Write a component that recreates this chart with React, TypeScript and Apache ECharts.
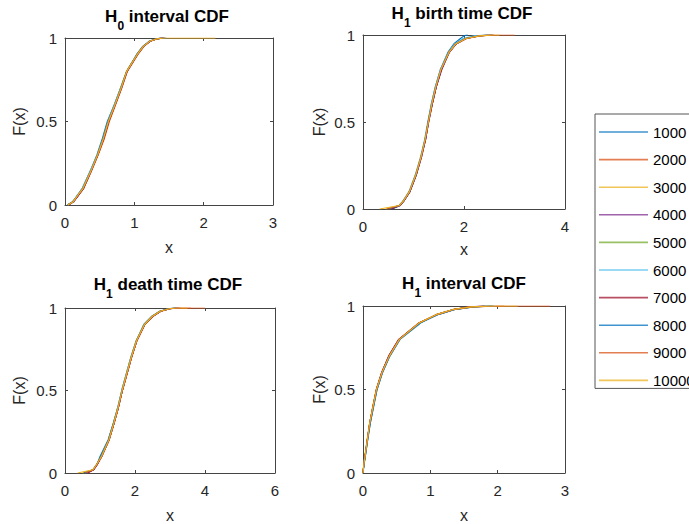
import React, { useEffect, useRef } from "react";
import * as echarts from "echarts";

// ---- data -------------------------------------------------------------
const seriesNames = ["1000", "2000", "3000", "4000", "5000", "6000", "7000", "8000", "9000", "10000"];
const matlabColors = ["#0072BD", "#D95319", "#EDB120", "#7E2F8E", "#77AC30", "#4DBEEE", "#A2142F"];

// cumulative probability levels (y values) for the panels
const cdfLevels = [0, 0.02, 0.05, 0.1, 0.2, 0.3, 0.4, 0.5, 0.6, 0.7, 0.8, 0.9, 0.95, 0.98, 0.995, 1, 1];
const h1IntervalLevels = [0, 0.05, 0.1, 0.2, 0.3, 0.4, 0.5, 0.6, 0.7, 0.8, 0.9, 0.95, 0.98, 0.995, 1, 1];

// x quantiles per series (rows: 1000 … 10000)
const h0IntervalX = [
  [0.03, 0.11, 0.17, 0.25, 0.36, 0.46, 0.54, 0.61, 0.71, 0.8, 0.89, 1.03, 1.12, 1.21, 1.31, 1.38, 1.4],
  [0.05, 0.12, 0.18, 0.27, 0.38, 0.48, 0.57, 0.64, 0.73, 0.82, 0.9, 1.05, 1.14, 1.23, 1.34, 1.42, 1.45],
  [0.04, 0.12, 0.17, 0.26, 0.37, 0.47, 0.555, 0.625, 0.72, 0.81, 0.89, 1.04, 1.13, 1.22, 1.32, 1.39, 1.41],
  [0.05, 0.13, 0.18, 0.26, 0.37, 0.47, 0.56, 0.63, 0.72, 0.81, 0.895, 1.04, 1.13, 1.23, 1.33, 1.4, 1.43],
  [0.04, 0.11, 0.17, 0.25, 0.365, 0.465, 0.55, 0.62, 0.715, 0.8, 0.885, 1.035, 1.125, 1.22, 1.32, 1.38, 1.39],
  [0.03, 0.12, 0.16, 0.25, 0.36, 0.47, 0.55, 0.62, 0.71, 0.805, 0.89, 1.04, 1.13, 1.22, 1.33, 1.41, 1.44],
  [0.05, 0.12, 0.18, 0.27, 0.375, 0.475, 0.56, 0.63, 0.725, 0.815, 0.895, 1.045, 1.135, 1.225, 1.335, 1.4, 1.42],
  [0.04, 0.12, 0.17, 0.26, 0.37, 0.47, 0.55, 0.62, 0.72, 0.81, 0.89, 1.04, 1.13, 1.22, 1.33, 1.41, 1.46],
  [0.04, 0.12, 0.17, 0.26, 0.37, 0.475, 0.56, 0.63, 0.72, 0.81, 0.89, 1.04, 1.13, 1.22, 1.33, 1.41, 1.43],
  [0.04, 0.12, 0.17, 0.26, 0.37, 0.47, 0.555, 0.625, 0.72, 0.81, 0.89, 1.04, 1.13, 1.22, 1.33, 1.42, 2.17],
];

const h1BirthX = [
  [0.58, 0.74, 0.82, 0.93, 1.06, 1.15, 1.23, 1.29, 1.35, 1.43, 1.53, 1.68, 1.8, 1.93, 2.0, 2.05, 2.08],
  [0.5, 0.72, 0.81, 0.92, 1.05, 1.15, 1.24, 1.3, 1.37, 1.45, 1.55, 1.71, 1.85, 2.05, 2.3, 2.55, 2.6],
  [0.45, 0.71, 0.8, 0.91, 1.04, 1.14, 1.23, 1.29, 1.36, 1.44, 1.54, 1.7, 1.84, 2.04, 2.28, 2.5, 2.52],
  [0.55, 0.73, 0.82, 0.93, 1.06, 1.16, 1.24, 1.3, 1.37, 1.45, 1.56, 1.71, 1.85, 2.03, 2.25, 2.45, 2.48],
  [0.52, 0.72, 0.81, 0.92, 1.05, 1.15, 1.23, 1.29, 1.36, 1.44, 1.54, 1.7, 1.83, 2.02, 2.27, 2.5, 2.55],
  [0.48, 0.71, 0.8, 0.91, 1.04, 1.14, 1.22, 1.28, 1.35, 1.43, 1.53, 1.69, 1.82, 1.98, 2.2, 2.42, 2.45],
  [0.56, 0.73, 0.82, 0.93, 1.06, 1.16, 1.24, 1.3, 1.37, 1.45, 1.55, 1.7, 1.85, 2.05, 2.3, 2.55, 2.58],
  [0.5, 0.72, 0.81, 0.92, 1.05, 1.15, 1.23, 1.29, 1.36, 1.44, 1.54, 1.7, 1.84, 2.03, 2.3, 2.52, 2.56],
  [0.47, 0.72, 0.81, 0.92, 1.05, 1.15, 1.23, 1.29, 1.36, 1.44, 1.54, 1.7, 1.84, 2.04, 2.32, 2.6, 3.0],
  [0.33, 0.72, 0.81, 0.92, 1.05, 1.15, 1.23, 1.295, 1.36, 1.44, 1.54, 1.7, 1.84, 2.04, 2.3, 2.57, 2.7],
];

const h1DeathX = [
  [0.62, 0.82, 0.91, 1.0, 1.23, 1.38, 1.51, 1.62, 1.75, 1.88, 2.03, 2.25, 2.48, 2.7, 2.95, 3.1, 3.12],
  [0.55, 0.81, 0.91, 1.05, 1.26, 1.4, 1.53, 1.64, 1.77, 1.9, 2.05, 2.28, 2.51, 2.74, 3.0, 3.3, 4.0],
  [0.5, 0.79, 0.89, 1.03, 1.24, 1.38, 1.51, 1.62, 1.75, 1.88, 2.03, 2.26, 2.49, 2.71, 2.96, 3.15, 3.2],
  [0.6, 0.82, 0.92, 1.04, 1.25, 1.4, 1.53, 1.64, 1.77, 1.9, 2.05, 2.28, 2.51, 2.73, 3.0, 3.2, 3.25],
  [0.52, 0.8, 0.9, 1.04, 1.25, 1.39, 1.52, 1.63, 1.76, 1.89, 2.04, 2.26, 2.49, 2.72, 2.97, 3.12, 3.16],
  [0.58, 0.81, 0.9, 1.05, 1.26, 1.39, 1.51, 1.62, 1.75, 1.88, 2.04, 2.27, 2.5, 2.72, 2.98, 3.18, 3.22],
  [0.65, 0.82, 0.92, 1.05, 1.26, 1.4, 1.53, 1.64, 1.77, 1.9, 2.05, 2.28, 2.52, 2.74, 3.0, 3.18, 3.3],
  [0.54, 0.8, 0.9, 1.03, 1.24, 1.38, 1.52, 1.63, 1.76, 1.89, 2.04, 2.27, 2.5, 2.72, 2.97, 3.14, 3.18],
  [0.57, 0.81, 0.91, 1.05, 1.26, 1.4, 1.53, 1.64, 1.77, 1.9, 2.05, 2.28, 2.5, 2.73, 2.99, 3.2, 3.6],
  [0.36, 0.8, 0.9, 1.04, 1.25, 1.39, 1.52, 1.63, 1.76, 1.89, 2.04, 2.27, 2.5, 2.72, 2.98, 3.17, 3.5],
];

const h1IntervalX = [
  [0.0, 0.015, 0.035, 0.07, 0.11, 0.16, 0.21, 0.29, 0.4, 0.55, 0.86, 1.1, 1.36, 1.62, 1.85, 1.9],
  [0.0, 0.012, 0.03, 0.065, 0.1, 0.15, 0.2, 0.28, 0.38, 0.53, 0.83, 1.12, 1.38, 1.65, 2.0, 2.78],
  [0.0, 0.01, 0.028, 0.06, 0.1, 0.145, 0.195, 0.275, 0.385, 0.54, 0.84, 1.1, 1.35, 1.6, 1.85, 1.88],
  [0.0, 0.013, 0.03, 0.065, 0.1, 0.15, 0.2, 0.275, 0.38, 0.53, 0.85, 1.12, 1.37, 1.6, 1.8, 1.82],
  [0.0, 0.011, 0.029, 0.063, 0.1, 0.148, 0.2, 0.28, 0.39, 0.54, 0.84, 1.11, 1.36, 1.62, 1.9, 1.95],
  [0.0, 0.014, 0.033, 0.068, 0.105, 0.155, 0.205, 0.285, 0.395, 0.55, 0.86, 1.13, 1.38, 1.64, 1.92, 1.96],
  [0.0, 0.012, 0.03, 0.064, 0.1, 0.148, 0.198, 0.276, 0.385, 0.535, 0.84, 1.1, 1.35, 1.58, 1.78, 1.8],
  [0.0, 0.015, 0.034, 0.07, 0.108, 0.157, 0.207, 0.286, 0.395, 0.545, 0.85, 1.12, 1.37, 1.63, 1.9, 1.93],
  [0.0, 0.012, 0.03, 0.066, 0.102, 0.152, 0.202, 0.282, 0.39, 0.54, 0.84, 1.11, 1.36, 1.62, 2.0, 2.1],
  [0.0, 0.012, 0.03, 0.065, 0.1, 0.15, 0.2, 0.28, 0.39, 0.54, 0.84, 1.1, 1.35, 1.6, 1.9, 2.3],
];

// axis ticks
const xAxisMax = [3, 4, 6, 3];
const xAxisStep = [1, 2, 2, 1];
const yAxisMax = 1;
const yAxisStep = 0.5;

// titles: main letter, subscript, rest
const titleMain = ["H", "H", "H", "H"];
const titleSub = ["0", "1", "1", "1"];
const titleRest = [" interval CDF", " birth time CDF", " death time CDF", " interval CDF"];

// ---- layout ------------------------------------------------------------
const FONT = "'Liberation Sans', Arial, Helvetica, sans-serif";
const panels = [
  { grid: { left: 65, top: 38, width: 208, height: 167 }, levels: cdfLevels, xs: h0IntervalX, titleX: 167, titleY: 8, xGap: 34, yGap: 38 },
  { grid: { left: 363, top: 35, width: 202, height: 174 }, levels: cdfLevels, xs: h1BirthX, titleX: 462, titleY: 5, xGap: 32, yGap: 36 },
  { grid: { left: 65, top: 308, width: 210, height: 166 }, levels: cdfLevels, xs: h1DeathX, titleX: 168, titleY: 276, xGap: 34, yGap: 38 },
  { grid: { left: 363, top: 306, width: 202, height: 171 }, levels: h1IntervalLevels, xs: h1IntervalX, titleX: 464, titleY: 275, xGap: 34, yGap: 36 },
];

const AXIS_COLOR = "#444";
const LABEL_COLOR = "#262626";

export default function App() {
  const ref = useRef<HTMLDivElement>(null);

  useEffect(() => {
    if (!ref.current) return;
    const chart = echarts.init(ref.current, null, { renderer: "svg" });

    const grids = panels.map((p) => ({ ...p.grid, containLabel: false }));
    const xAxes: any[] = [];
    const yAxes: any[] = [];
    panels.forEach((p, i) => {
      const common = {
        gridIndex: i,
        axisLine: { show: true, onZero: false, lineStyle: { color: AXIS_COLOR, width: 1 } },
        axisTick: { show: true, inside: true, length: 3, lineStyle: { color: AXIS_COLOR, width: 1 } },
        splitLine: { show: false },
      };
      xAxes.push({
        ...common,
        type: "value",
        position: "bottom",
        min: 0,
        max: xAxisMax[i],
        interval: xAxisStep[i],
        name: "x",
        nameLocation: "middle",
        nameGap: p.xGap,
        nameTextStyle: { color: LABEL_COLOR, fontSize: 16, fontFamily: FONT },
        axisLabel: { color: LABEL_COLOR, fontSize: 15, fontFamily: FONT, margin: 10 },
      });
      yAxes.push({
        ...common,
        type: "value",
        position: "left",
        min: 0,
        max: yAxisMax,
        interval: yAxisStep,
        name: "F(x)",
        nameLocation: "middle",
        nameGap: p.yGap,
        nameTextStyle: { color: LABEL_COLOR, fontSize: 16, fontFamily: FONT },
        axisLabel: { color: LABEL_COLOR, fontSize: 15, fontFamily: FONT, margin: 8 },
      });
    });
    panels.forEach((p, i) => {
      const common = {
        gridIndex: i,
        axisLine: { show: true, onZero: false, lineStyle: { color: AXIS_COLOR, width: 1 } },
        axisTick: { show: true, inside: true, length: 3, lineStyle: { color: AXIS_COLOR, width: 1 } },
        splitLine: { show: false },
        axisLabel: { show: false },
      };
      xAxes.push({ ...common, type: "value", position: "top", min: 0, max: xAxisMax[i], interval: xAxisStep[i] });
      yAxes.push({ ...common, type: "value", position: "right", min: 0, max: yAxisMax, interval: yAxisStep });
    });

    const series: any[] = [];
    panels.forEach((p, i) => {
      p.xs.forEach((row, s) => {
        const color = matlabColors[s % matlabColors.length];
        series.push({
          type: "line",
          name: seriesNames[s],
          xAxisIndex: i,
          yAxisIndex: i,
          data: row.map((x, k) => [x, p.levels[k]]),
          symbol: "none",
          showSymbol: false,
          color,
          itemStyle: { color },
          lineStyle: { color, width: 1.1 },
          silent: true,
          clip: true,
        });
      });
    });

    const graphics = panels.map((p, i) => ({
      type: "text",
      x: p.titleX,
      y: p.titleY,
      style: {
        text: `{b|${titleMain[i]}}{s|${titleSub[i]}}{b|${titleRest[i]}}`,
        align: "center",
        verticalAlign: "top",
        rich: {
          b: { fontSize: 17, fontWeight: "bold", fontFamily: FONT, fill: "#000", color: "#000", lineHeight: 20, verticalAlign: "top" },
          s: { fontSize: 12, fontWeight: "bold", fontFamily: FONT, fill: "#000", color: "#000", lineHeight: 14, verticalAlign: "top", padding: [12, 0, 0, 0] },
        },
      },
    }));

    chart.setOption({
      animation: false,
      backgroundColor: "#ffffff",
      grid: grids,
      xAxis: xAxes,
      yAxis: yAxes,
      series,
      graphic: graphics,
      legend: {
        data: seriesNames.map((n) => ({ name: n, icon: "rect" })),
        orient: "vertical",
        left: 595,
        top: 114,
        padding: [10, 10, 0, 4],
        itemWidth: 49,
        itemHeight: 1.6,
        itemGap: 11.6,
        borderColor: "#555",
        borderWidth: 1,
        backgroundColor: "#fff",
        selectedMode: false,
        itemStyle: { borderWidth: 0, opacity: 0.75 },
        textStyle: { color: "#000", fontSize: 15, fontFamily: FONT, lineHeight: 16 },
      },
    });

    return () => chart.dispose();
  }, []);

  return <div ref={ref} style={{ position: "absolute", left: 0, top: 0, width: 689, height: 524 }} />;
}
